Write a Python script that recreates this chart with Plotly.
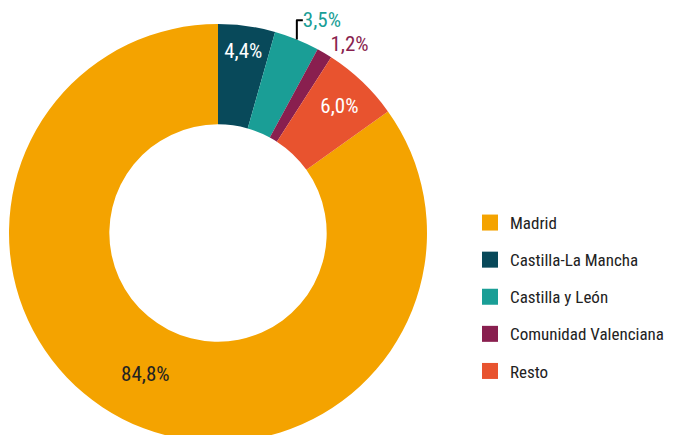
import plotly.graph_objects as go

categories = ["Madrid", "Castilla-La Mancha", "Castilla y León", "Comunidad Valenciana", "Resto"]
values = [84.8, 4.4, 3.5, 1.2, 6.0]
colors = ["#F4A300", "#08495A", "#1A9E96", "#891F4F", "#E8532F"]
label_colors = ["#222222", "#FFFFFF", "#1A9E96", "#891F4F", "#FFFFFF"]
label_positions = ["inside", "inside", "outside", "outside", "inside"]

FONT = "Roboto Condensed, DejaVu Sans Condensed, Liberation Sans Narrow, Arial Narrow, Roboto, sans-serif"
W, H = 673, 435

start_angle = (1 - values[0] / sum(values)) * 360

fig = go.Figure()
fig.add_trace(go.Pie(
    labels=categories,
    values=values,
    sort=False,
    direction="clockwise",
    rotation=start_angle,
    hole=0.52,
    marker=dict(colors=colors, line=dict(width=0)),
    texttemplate="%{value:.1f}%",
    textposition=label_positions,
    textfont=dict(family=FONT, size=21, color=label_colors),
    insidetextorientation="horizontal",
    showlegend=False,
    hoverinfo="label+value",
    domain=dict(x=[1 / W, 419 / W], y=[1 / H, 419 / H]),
))

for name, col in zip(categories, colors):
    fig.add_trace(go.Scatter(
        x=[None], y=[None], mode="markers", name=name, legendgroup=name,
        marker=dict(symbol="square", size=19, color=col),
    ))

fig.update_layout(
    width=W, height=H,
    margin=dict(l=0, r=0, t=0, b=0, autoexpand=False),
    paper_bgcolor="white", plot_bgcolor="white",
    separators=", ",
    font=dict(family=FONT, color="#222222"),
    xaxis=dict(visible=False), yaxis=dict(visible=False),
    legend=dict(
        x=462 / W, xanchor="left", y=1 - 289 / H, yanchor="middle",
        traceorder="grouped", tracegroupgap=12,
        font=dict(family=FONT, size=17, color="#222222"),
        itemsizing="trace",
    ),
)

fig.write_html("out.html")
